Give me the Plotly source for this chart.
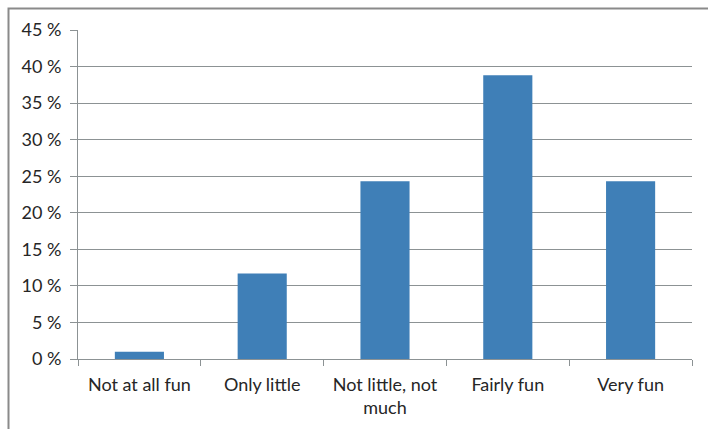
import plotly.graph_objects as go

categories = ["Not at all fun", "Only little", "Not little, not<br>much", "Fairly fun", "Very fun"]
values = [1.0, 11.7, 24.3, 38.8, 24.3]
y_ticks = [0, 5, 10, 15, 20, 25, 30, 35, 40, 45]

W, H = 708, 429
L, R, T, B = 78, 16, 30, 70
pw, ph = W - L - R, H - T - B

fig = go.Figure(go.Bar(x=categories, y=values, marker=dict(color="#3f7fb7", line=dict(width=0)),
                       width=0.4))

fig.update_layout(
    width=W, height=H,
    margin=dict(l=L, r=R, t=T, b=B),
    paper_bgcolor="white", plot_bgcolor="white",
    font=dict(family="Lato, Open Sans, sans-serif", size=18, color="#262626"),
    showlegend=False,
    bargap=0.6,
)
fig.update_yaxes(range=[0, 45], tickvals=y_ticks, ticktext=[f"{v} %" for v in y_ticks],
                 showgrid=True, gridcolor="#8c9294", gridwidth=1,
                 showline=True, linecolor="#8c9294", linewidth=1,
                 ticks="outside", ticklen=7, tickcolor="#8c9294", zeroline=False,
                 ticklabelstandoff=5, fixedrange=True)
fig.update_xaxes(showline=True, linecolor="#8c9294", linewidth=1,
                 ticks="outside", ticklen=6, tickcolor="#8c9294", tickson="boundaries",
                 showgrid=False, ticklabelstandoff=9, fixedrange=True)

# outer chart border
x0 = (8.5 - L) / pw
y1 = 1 + (T - 8.5) / ph
fig.add_shape(type="rect", xref="paper", yref="paper", x0=x0, x1=1.2, y0=-0.5, y1=y1,
              line=dict(color="#8a8a8a", width=2), fillcolor="rgba(0,0,0,0)", layer="below")

fig.write_html("out.html")
